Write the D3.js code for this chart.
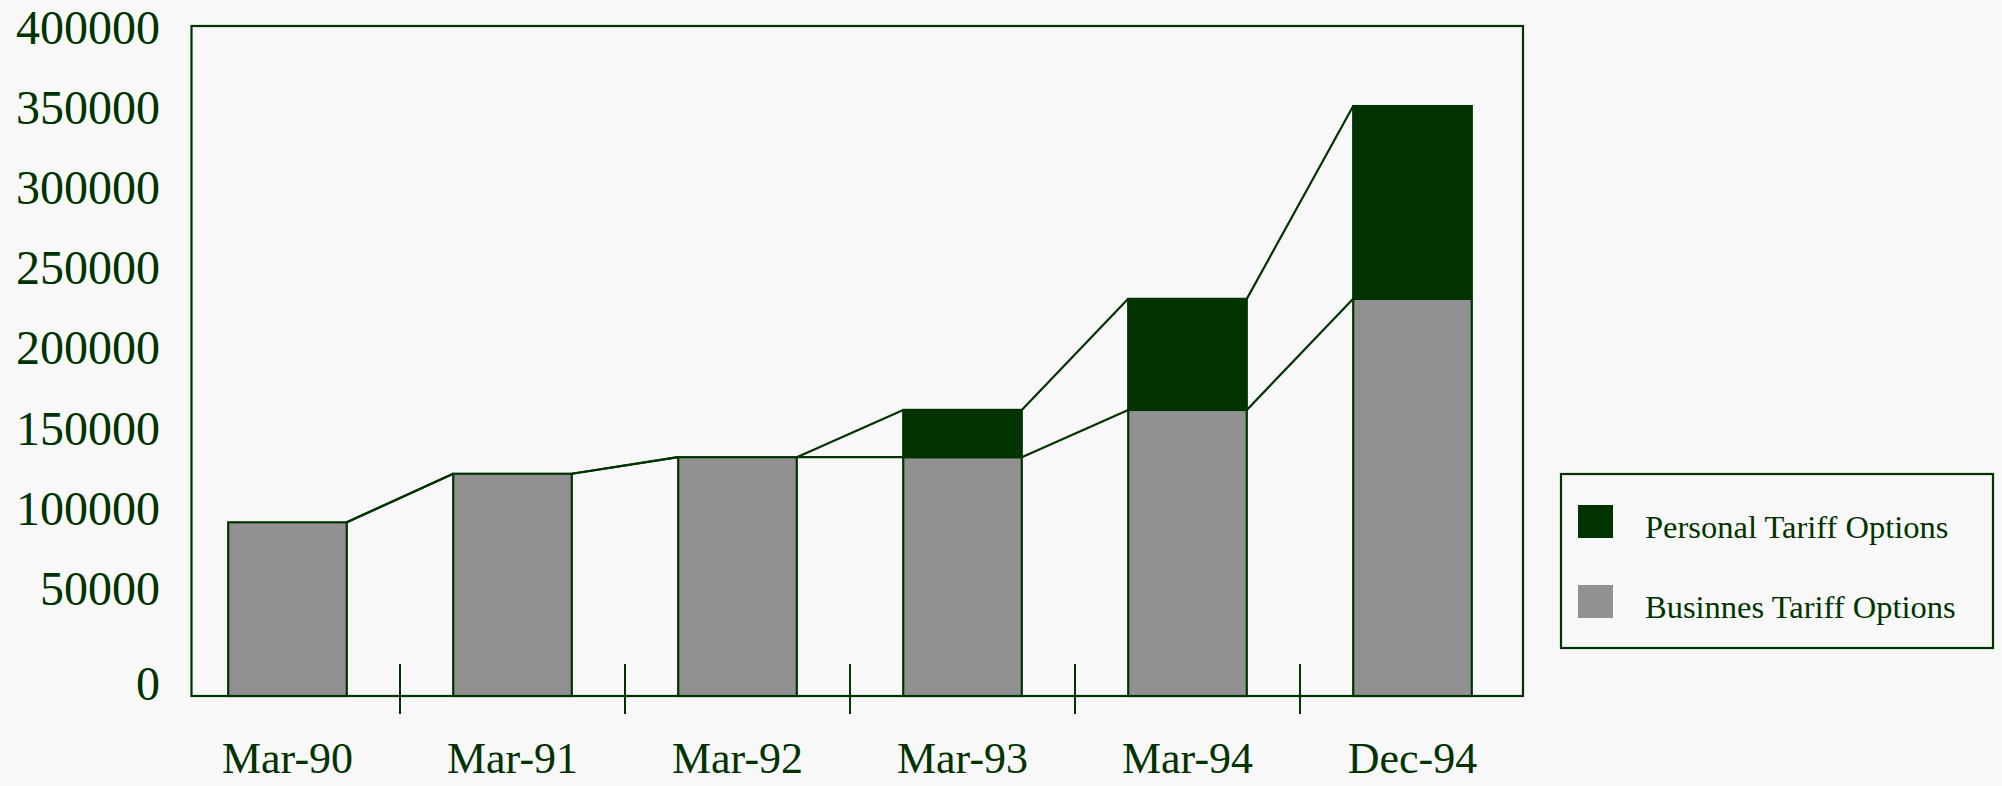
<!DOCTYPE html>
<html>
<head>
<meta charset="utf-8">
<script src="https://cdn.jsdelivr.net/npm/d3@7"></script>
<style>
  body { margin: 0; background: #f8f8f8; }
  svg { display: block; }
  text { font-family: "Liberation Serif", "Times New Roman", serif; fill: #003300; }
</style>
</head>
<body>
<svg id="chart" width="2002" height="786"></svg>
<script>
// data
const categories = ["Mar-90", "Mar-91", "Mar-92", "Mar-93", "Mar-94", "Dec-94"];
const business = [103700, 132700, 142600, 142600, 170800, 237100];
const personal = [0, 0, 0, 28200, 66300, 115100];
const yTicks = [0, 50000, 100000, 150000, 200000, 250000, 300000, 350000, 400000];
const seriesNames = ["Personal Tariff Options", "Businnes Tariff Options"];

const green = "#003300", grey = "#919191";

let svg = d3.select("#chart");
let plotL = 191.5, plotR = 1523, plotT = 26, plotB = 696;

let x = d3.scaleBand().domain(categories).range([175, 1525]);
let y = d3.scaleLinear().domain([0, 400000]).range([plotB, plotT]);
// the tick labels in the original are not spaced like the bars
let yLab = d3.scaleLinear().domain([0, 50000, 400000]).range([684, 589, 28]);
let barW = x.bandwidth() * 0.527;
let bx = d => x(d) + (x.bandwidth() - barW) / 2;

let rows = categories.map((c, i) => ({cat: c, business: business[i], personal: personal[i]}));
let stack = d3.stack().keys(["business", "personal"])(rows);
let fills = {business: grey, personal: green};

// frame
svg.append("rect").attr("x", plotL).attr("y", plotT).attr("width", plotR - plotL).attr("height", plotB - plotT)
    .style("fill", "none").style("stroke", green).style("stroke-width", 2.2);

// series lines between bars
stack.forEach(layer => {
    for (let i = 0; i < layer.length - 1; i++) {
        let a = layer[i], b = layer[i + 1];
        svg.append("line")
            .attr("x1", bx(a.data.cat) + barW).attr("y1", y(a[1]))
            .attr("x2", bx(b.data.cat)).attr("y2", y(b[1]))
            .style("stroke", green).style("stroke-width", 2.2);
    }
});

// bars
stack.forEach(layer => {
    svg.append("g").selectAll("rect").data(layer.filter(d => d[1] > d[0])).enter().append("rect")
        .attr("x", d => bx(d.data.cat)).attr("y", d => y(d[1]))
        .attr("width", barW).attr("height", d => y(d[0]) - y(d[1]))
        .style("fill", fills[layer.key]).style("stroke", green).style("stroke-width", 2.2);
});

// tick marks between categories, crossing the axis
svg.append("g").selectAll("line").data(categories.slice(1)).enter().append("line")
    .attr("x1", d => x(d)).attr("x2", d => x(d))
    .attr("y1", plotB - 32).attr("y2", plotB + 18)
    .style("stroke", green).style("stroke-width", 2);

// x labels
svg.append("g").selectAll("text").data(categories).enter().append("text")
    .attr("x", d => x(d) + x.bandwidth() / 2).attr("y", 773)
    .attr("text-anchor", "middle").style("font-size", "44px").text(d => d);

// y labels
let yAxis = svg.append("g").attr("transform", "translate(160,0)")
    .call(d3.axisLeft(yLab).tickValues(yTicks).tickSize(0).tickPadding(0).tickFormat(d3.format("d")));
yAxis.select(".domain").remove();
yAxis.selectAll("text").style("font-size", "48px").attr("fill", null);
yAxis.attr("font-family", null).attr("font-size", null);

// legend
let lg = svg.append("g");
lg.append("rect").attr("x", 1561).attr("y", 474).attr("width", 432).attr("height", 174)
    .style("fill", "none").style("stroke", green).style("stroke-width", 2.2);
let items = lg.selectAll("g").data(seriesNames).enter().append("g")
    .attr("transform", (d, i) => "translate(1578," + (505 + i * 80) + ")");
items.append("rect").attr("width", 35).attr("height", 33).style("fill", (d, i) => i == 0 ? green : grey);
items.append("text").attr("x", 67).attr("y", 33).style("font-size", "32.5px").text(d => d);
</script>
</body>
</html>
